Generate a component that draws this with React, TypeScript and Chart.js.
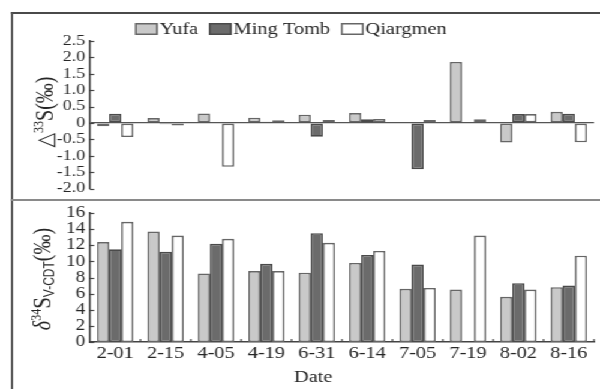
import React, { useEffect, useRef } from "react";
import { Chart, registerables } from "chart.js";
Chart.register(...registerables);

const dates = ["2-01", "2-15", "4-05", "4-19", "6-31", "6-14", "7-05", "7-19", "8-02", "8-16"];
const seriesNames = ["Yufa", "Ming Tomb", "Qiargmen"];
const d33Yufa = [-0.1, 0.15, 0.29, 0.16, 0.25, 0.3, -0.02, 1.86, -0.6, 0.34];
const d33Ming = [0.28, -0.04, null, 0.04, -0.42, 0.11, -1.41, null, 0.27, 0.28];
const d33Qiar = [-0.43, -0.08, -1.34, 0.08, 0.09, 0.12, 0.09, 0.11, 0.27, -0.59];
const d34Yufa = [12.4, 13.7, 8.5, 8.8, 8.6, 9.8, 6.6, 6.5, 5.6, 6.8];
const d34Ming = [11.5, 11.2, 12.2, 9.7, 13.5, 10.8, 9.6, null, 7.3, 7.0];
const d34Qiar = [14.9, 13.2, 12.8, 8.8, 12.3, 11.3, 6.7, 13.2, 6.5, 10.7];
const top33Range = [-2, 2.5];
const bottom34Range = [0, 16];

const fills = ["#c9c9c9", "#6b6b6b", "#ffffff"];
const borders = ["#666666", "#4a4a4a", "#666666"];
const SERIF = "'Liberation Serif', 'Times New Roman', 'DejaVu Serif', serif";
const TEXT = "#262626";
const SX = 1.2; // horizontal stretch of the figure

type Part = { t: string; size: number; dy?: number; style?: string; family?: string };

function drawRich(ctx: CanvasRenderingContext2D, parts: Part[], cx: number, cy: number, base: number) {
  ctx.save();
  ctx.translate(cx, cy);
  ctx.rotate(-Math.PI / 2);
  let total = 0;
  const widths = parts.map((p) => {
    ctx.font = `${p.style || ""} ${p.size}px ${p.family || SERIF}`;
    const w = ctx.measureText(p.t).width;
    total += w;
    return w;
  });
  let x = -total / 2;
  ctx.textBaseline = "alphabetic";
  ctx.textAlign = "left";
  ctx.fillStyle = TEXT;
  parts.forEach((p, i) => {
    ctx.font = `${p.style || ""} ${p.size}px ${p.family || SERIF}`;
    ctx.fillText(p.t, x, base * 0.33 + (p.dy || 0));
    x += widths[i];
  });
  ctx.restore();
}

function innerTicks(chart: any, withX: boolean) {
  const ctx = chart.ctx as CanvasRenderingContext2D;
  const y = chart.scales.y;
  const area = chart.chartArea;
  ctx.save();
  ctx.strokeStyle = "#444";
  ctx.lineWidth = 1.2;
  y.ticks.forEach((t: any) => {
    const py = Math.round(y.getPixelForValue(t.value)) + 0.5;
    ctx.beginPath();
    ctx.moveTo(area.left, py);
    ctx.lineTo(area.left + 3.5, py);
    ctx.stroke();
  });
  if (withX) {
    const x = chart.scales.x;
    const n = chart.data.labels.length;
    for (let i = 0; i < n; i++) {
      const px = i < n - 1 ? (x.getPixelForValue(i) + x.getPixelForValue(i + 1)) / 2 : area.right;
      ctx.beginPath();
      ctx.moveTo(px, area.bottom);
      ctx.lineTo(px, area.bottom - 3);
      ctx.stroke();
    }
  }
  ctx.restore();
}

function makeDatasets(a: (number | null)[], b: (number | null)[], c: (number | null)[]) {
  return [a, b, c].map((data, i) => ({
    label: seriesNames[i],
    data,
    backgroundColor: fills[i],
    borderColor: borders[i],
    borderWidth: 1.6,
    borderSkipped: false as const,
    barPercentage: 1,
    categoryPercentage: 0.72,
  }));
}

export default function App() {
  const topRef = useRef<HTMLCanvasElement>(null);
  const botRef = useRef<HTMLCanvasElement>(null);

  useEffect(() => {
    const topPlugin = {
      id: "topDeco",
      afterDraw(chart: any) {
        innerTicks(chart, false);
        const ctx = chart.ctx as CanvasRenderingContext2D;
        ctx.save();
        ctx.font = `17px ${SERIF}`;
        ctx.textBaseline = "middle";
        ctx.fillStyle = TEXT;
        let x = 112.5;
        const by = 23;
        chart.data.datasets.forEach((ds: any) => {
          ctx.fillStyle = ds.backgroundColor;
          ctx.fillRect(x, by, 19, 12);
          ctx.strokeStyle = ds.borderColor;
          ctx.lineWidth = 1.5;
          ctx.strokeRect(x + 0.75, by + 0.75, 17.5, 10.5);
          ctx.fillStyle = TEXT;
          ctx.fillText(ds.label, x + 20.5, by + 6.5);
          x += 20.5 + ctx.measureText(ds.label).width + 9;
        });
        ctx.restore();
        drawRich(
          ctx,
          [
            { t: "△", size: 19, family: "'DejaVu Sans', sans-serif" },
            { t: "33", size: 12, dy: -8 },
            { t: "S(‰)", size: 20 },
          ],
          37,
          112,
          20
        );
      },
    };
    const botPlugin = {
      id: "botDeco",
      afterDraw(chart: any) {
        innerTicks(chart, true);
        const ctx = chart.ctx as CanvasRenderingContext2D;
        ctx.save();
        ctx.font = `17px ${SERIF}`;
        ctx.textAlign = "center";
        ctx.textBaseline = "middle";
        ctx.fillStyle = TEXT;
        ctx.fillText("Date", 261, 177);
        ctx.restore();
        drawRich(
          ctx,
          [
            { t: "δ", size: 20, style: "italic" },
            { t: "34", size: 12, dy: -8 },
            { t: "S", size: 21 },
            { t: "V-CDT", size: 12, dy: 3, family: "'Liberation Sans', sans-serif" },
            { t: "(‰)", size: 20 },
          ],
          35.5,
          78,
          20
        );
      },
    };

    const yCommon = (fontSize: number) => ({
      afterFit(scale: any) {
        scale.width = 75;
      },
      border: { display: true, color: "#444", width: 1.6 },
      ticks: {
        autoSkip: false,
        color: TEXT,
        padding: 4,
        font: { family: SERIF, size: fontSize, lineHeight: 1 },
      },
    });

    const top = new Chart(topRef.current!, {
      type: "bar",
      data: { labels: dates, datasets: makeDatasets(d33Yufa, d33Ming, d33Qiar) },
      options: {
        responsive: false,
        animation: false,
        devicePixelRatio: 1,
        layout: { padding: { top: 41, bottom: 10, left: 0, right: 5 } },
        plugins: { legend: { display: false }, tooltip: { enabled: false } },
        scales: {
          x: { display: false },
          y: {
            ...yCommon(15),
            min: top33Range[0],
            max: top33Range[1],
            grid: {
              drawTicks: false,
              color: (c: any) => (c.tick && c.tick.value === 0 ? "#555" : "rgba(0,0,0,0)"),
              lineWidth: 1.2,
            },
            ticks: {
              ...yCommon(15).ticks,
              stepSize: 0.5,
              callback: (v: any) => (Number(v) === 0 ? "0" : Number(v).toFixed(1)),
            },
          },
        },
      },
      plugins: [topPlugin],
    } as any);

    const bot = new Chart(botRef.current!, {
      type: "bar",
      data: { labels: dates, datasets: makeDatasets(d34Yufa, d34Ming, d34Qiar) },
      options: {
        responsive: false,
        animation: false,
        devicePixelRatio: 1,
        layout: { padding: { top: 12, bottom: 0, left: 0, right: 5 } },
        plugins: { legend: { display: false }, tooltip: { enabled: false } },
        scales: {
          x: {
            afterFit(scale: any) {
              scale.height = 47;
            },
            grid: { display: false, drawTicks: false },
            border: { display: true, color: "#444", width: 1.6 },
            ticks: {
              color: TEXT,
              padding: 3,
              maxRotation: 0,
              autoSkip: false,
              font: { family: SERIF, size: 17, lineHeight: 1 },
            },
          },
          y: {
            ...yCommon(16),
            min: bottom34Range[0],
            max: bottom34Range[1],
            grid: { display: false, drawTicks: false },
            ticks: { ...yCommon(16).ticks, stepSize: 2 },
          },
        },
      },
      plugins: [botPlugin],
    } as any);

    return () => {
      top.destroy();
      bot.destroy();
    };
  }, []);

  return (
    <div
      style={{
        position: "fixed",
        left: 0,
        top: 0,
        width: 500,
        height: 389,
        overflow: "hidden",
        background: "#fff",
        transform: `scaleX(${SX})`,
        transformOrigin: "0 0",
      }}
    >
      <div
        style={{
          position: "absolute",
          left: 8.5,
          top: 11.5,
          width: 491.5,
          height: 400,
          boxSizing: "border-box",
          borderTop: "2px solid #4a4a4a",
          borderLeft: "2px solid #5a5a5a",
        }}
      />
      <div
        style={{
          position: "absolute",
          left: 8.5,
          top: 199,
          width: 491.5,
          height: 2,
          background: "#8a8a8a",
        }}
      />
      <canvas ref={topRef} width={500} height={200} style={{ position: "absolute", left: 0, top: 0 }} />
      <canvas ref={botRef} width={500} height={188} style={{ position: "absolute", left: 0, top: 201 }} />
    </div>
  );
}
